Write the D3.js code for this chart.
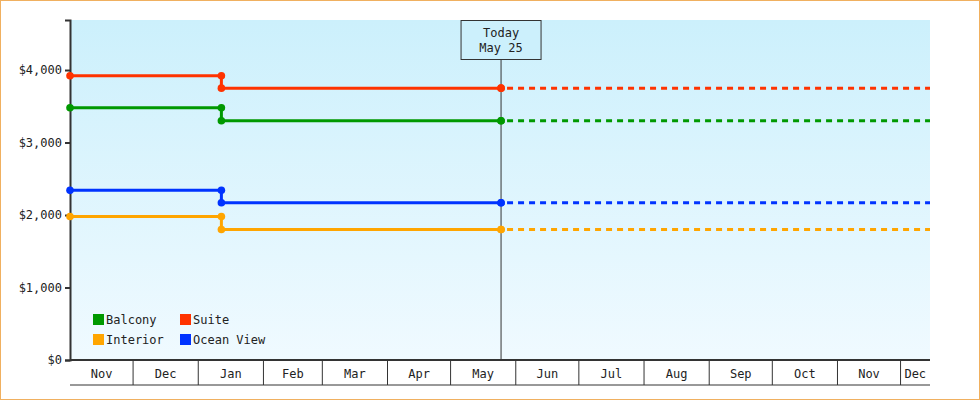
<!DOCTYPE html>
<html><head><meta charset="utf-8">
<script src="https://cdn.jsdelivr.net/npm/d3@7"></script>
<style>
body{margin:0;background:#fff;}
svg{display:block;font-family:"DejaVu Sans Mono",monospace;}
</style></head>
<body><div id="main"></div>
<script>
const ctx = { W: 980, H: 400, left: 70, right: 930, top: 20, bottom: 360 };

const seriesNames = ["Balcony", "Suite", "Interior", "Ocean View"];
const seriesColors = ["#009900", "#ff3300", "#ffa500", "#0033ff"];
const changeDates = ["2024-11-01", "2025-01-12", "2025-05-25"];
const balcony = [3480, 3300, 3300];
const suite = [3920, 3750, 3750];
const interior = [1980, 1800, 1800];
const oceanView = [2340, 2170, 2170];
const yTicks = [0, 1000, 2000, 3000, 4000];
const monthStarts = ["2024-11-01","2024-12-01","2025-01-01","2025-02-01","2025-03-01","2025-04-01","2025-05-01","2025-06-01","2025-07-01","2025-08-01","2025-09-01","2025-10-01","2025-11-01","2025-12-01"];
const endDate = "2025-12-15";
const todayLabel = ["Today", "May 25"];

const parse = d3.timeParse("%Y-%m-%d");
const svg = d3.select("#main").append("svg").attr("width", ctx.W).attr("height", ctx.H);
svg.append("rect").attr("x",0.5).attr("y",0.5).attr("width",ctx.W-1).attr("height",ctx.H-1)
  .attr("fill","#fff").attr("stroke","#f0b060");

const defs = svg.append("defs");
const grad = defs.append("linearGradient").attr("id","bg").attr("x1",0).attr("y1",0).attr("x2",0).attr("y2",1);
grad.append("stop").attr("offset","0%").attr("stop-color","#ccf0fc");
grad.append("stop").attr("offset","100%").attr("stop-color","#f0faff");

const x = d3.scaleTime().domain([parse(monthStarts[0]), parse(endDate)]).range([ctx.left, ctx.right]);
const y = d3.scaleLinear().domain([0, 4690]).range([ctx.bottom, ctx.top]);

svg.append("rect").attr("x",ctx.left).attr("y",ctx.top).attr("width",ctx.right-ctx.left)
  .attr("height",ctx.bottom-ctx.top).attr("fill","url(#bg)");

// y axis
const ya = svg.append("g").attr("transform",`translate(${ctx.left},0)`)
  .call(d3.axisLeft(y).tickValues(yTicks).tickSize(5).tickFormat(d => "$" + d3.format(",")(d)));
ya.select(".domain").attr("stroke","#333").attr("stroke-width",2);
ya.selectAll(".tick line").attr("stroke","#333").attr("stroke-width",2);
ya.selectAll("text").attr("font-family","DejaVu Sans Mono").attr("font-size",12).attr("fill","#222");

// x month boxes
const xg = svg.append("g");
xg.append("line").attr("x1",ctx.left).attr("x2",ctx.right).attr("y1",ctx.bottom).attr("y2",ctx.bottom).attr("stroke","#333").attr("stroke-width",2);
xg.append("line").attr("x1",ctx.left).attr("x2",ctx.right).attr("y1",ctx.bottom+25).attr("y2",ctx.bottom+25).attr("stroke","#333");
const ms = monthStarts.map(parse);
ms.forEach((d,i) => {
  const x0 = x(d), x1 = i < ms.length-1 ? x(ms[i+1]) : ctx.right;
  if (i > 0) xg.append("line").attr("x1",x0).attr("x2",x0).attr("y1",ctx.bottom).attr("y2",ctx.bottom+25).attr("stroke","#333");
  xg.append("text").attr("x",(x0+x1)/2).attr("y",ctx.bottom+18).attr("text-anchor","middle")
    .attr("font-size",12).attr("fill","#222").text(d3.timeFormat("%b")(d));
});

// today
const today = parse(changeDates[2]);
svg.append("line").attr("x1",x(today)).attr("x2",x(today)).attr("y1",60).attr("y2",ctx.bottom).attr("stroke","#333");
svg.append("rect").attr("x",x(today)-40).attr("y",20.5).attr("width",80).attr("height",39)
  .attr("fill","#ccf0fc").attr("stroke","#333");
todayLabel.forEach((t,i) => svg.append("text").attr("x",x(today)).attr("y",37+i*15).attr("text-anchor","middle")
  .attr("font-size",12).attr("fill","#222").text(t));

// series
const allSeries = [balcony, suite, interior, oceanView];
const dates = changeDates.map(parse);
allSeries.forEach((vals, si) => {
  const c = seriesColors[si];
  const pts = [];
  for (let i = 0; i < vals.length; i++) {
    if (i > 0) pts.push([dates[i], vals[i-1]]);
    pts.push([dates[i], vals[i]]);
  }
  svg.append("path").datum(pts).attr("fill","none").attr("stroke",c).attr("stroke-width",3)
    .attr("d", d3.line().x(d => x(d[0])).y(d => y(d[1])));
  const last = vals[vals.length-1];
  svg.append("path").datum([[today,last],[parse(endDate),last]]).attr("fill","none").attr("stroke",c)
    .attr("stroke-width",3).attr("stroke-dasharray","6,5")
    .attr("d", d3.line().x(d => x(d[0]) + (d[0] === today ? 6 : 0)).y(d => y(d[1])));
  svg.selectAll(null).data(pts).enter().append("circle")
    .attr("cx", d => x(d[0])).attr("cy", d => y(d[1])).attr("r",3.8).attr("fill",c);
});

// legend
seriesNames.forEach((n,i) => {
  const lx = 93 + (i % 2) * 87, ly = 314 + Math.floor(i/2) * 20;
  svg.append("rect").attr("x",lx).attr("y",ly).attr("width",11).attr("height",11).attr("fill",seriesColors[i]);
  svg.append("text").attr("x",lx+13).attr("y",ly+10).attr("font-size",12).attr("fill","#222").text(n);
});
</script></body></html>
